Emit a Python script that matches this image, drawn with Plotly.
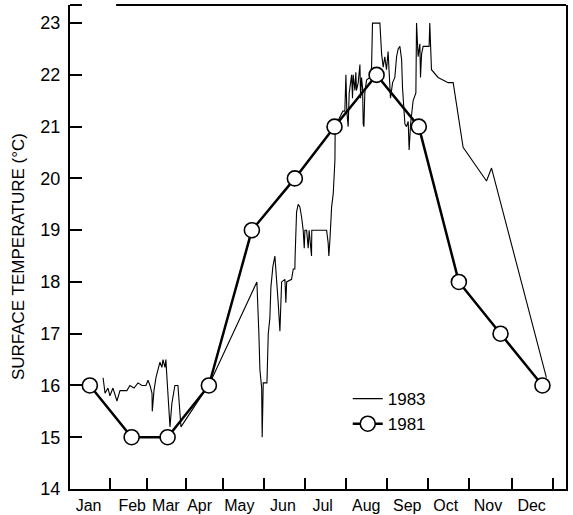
import plotly.graph_objects as go

# ---- data (day of year, temperature °C) ----
days_1981 = [15, 46.6, 73.8, 105, 137.5, 170, 200, 231.8, 263.7, 294, 325.5, 357.2]
temp_1981 = [16.0, 15.0, 15.0, 16.0, 19.0, 20.0, 21.0, 22.0, 21.0, 18.0, 17.0, 16.0]

days_1983 = [25, 26.5, 28.7, 30.2, 32.5, 35.5, 37.8, 40.8, 43, 45.3, 48.4, 51.4, 54.4, 57.4, 59,
             60.5, 62, 62.2, 63.5, 65, 66.5, 68, 69.5, 70.3, 71.8, 72.5, 73.3, 74, 75.6, 77,
             79.3, 81.6, 82.4, 83.9, 105.8, 141.3, 142.8, 143.6, 144.9, 145.3, 146.1, 148.9,
             149.9, 151.1, 151.9, 153.4, 154.9, 156.2, 157.4, 158.7, 159.2, 160, 162.5, 163.2,
             163.8, 167.5, 168.8, 170, 170.2, 171.3, 172.5, 173.8, 175.1, 176.3, 177.1, 177.6,
             178.9, 180.1, 180.8, 182.6, 182.8, 194, 195.2, 195.7, 196.5, 197.8, 199, 199.5,
             200.3, 200.5, 202.5, 206.3, 207.8, 208.6, 209.3, 210.3, 211.1, 212.9, 213.6, 214.1,
             215.4, 216.1, 216.6, 217.9, 219.2, 219.7, 220.4, 221.2, 221.7, 222.2, 222.9, 224.2,
             226.7, 228, 228.7, 234.3, 235.6, 236.8, 238, 239.3, 240.5, 241.3, 242.3, 243.9,
             245.6, 246.9, 248.1, 249.4, 250.7, 251.4, 253.2, 254.4, 255.7, 256.4, 257.5, 259.4,
             261.5, 262, 263.2, 264.5, 265, 265.8, 267, 271.5, 272, 273.3, 275.1, 278.3, 285.9,
             289.7, 297.2, 314.9, 318.7, 360.2]
temp_1983 = [16.15, 15.85, 15.95, 15.8, 15.95, 15.7, 15.9, 15.9, 15.9, 16.0, 15.95, 16.05, 16.0, 16.0, 16.1,
             16.0, 15.85, 15.5, 15.9, 16.15, 16.3, 16.45, 16.35, 16.5, 16.35, 16.5, 16.15, 15.8, 15.2, 15.65,
             16.0, 16.0, 15.65, 15.2, 16.05, 18.0, 17.0, 16.3, 15.95, 15.0, 16.05, 16.05,
             17.0, 17.3, 17.9, 18.3, 18.5, 18.1, 17.6, 17.05, 17.5, 18.0, 18.05, 17.6,
             18.0, 18.05, 18.25, 18.25, 18.5, 19.35, 19.5, 19.45, 19.25, 19.0, 18.65, 19.0,
             19.0, 18.65, 19.0, 18.5, 19.0, 19.0, 18.75, 18.5, 18.8, 19.45, 19.7, 19.95,
             20.35, 21.0, 21.1, 21.3, 21.3, 22.0, 21.3, 21.0, 21.65, 22.0, 21.55, 22.0,
             21.7, 22.05, 21.7, 21.85, 22.2, 21.55, 21.95, 21.75, 21.05, 21.0, 21.65, 21.9,
             21.95, 22.15, 23.0, 23.0, 22.4, 22.15, 22.35, 22.1, 22.45, 21.95, 21.55, 21.85,
             21.95, 22.35, 22.5, 22.55, 22.3, 21.75, 21.05, 21.0, 21.1, 20.55, 21.05, 21.5,
             21.65, 23.0, 22.35, 22.6, 21.95, 22.4, 22.55, 22.55, 23.0, 22.1, 22.05, 21.95, 21.85,
             21.85, 20.6, 19.95, 20.2, 16.15]

months = ["Jan", "Feb", "Mar", "Apr", "May", "Jun", "Jul", "Aug", "Sep", "Oct", "Nov", "Dec"]
month_label_days = [14, 47, 72.5, 98, 128, 161, 191, 224, 255, 284, 316, 349]
month_tick_days = [30, 58, 88, 116, 147, 178, 209, 240, 270.5, 301.5, 334, 365]
y_ticks = list(range(14, 24))
y_title = "SURFACE TEMPERATURE (°C)"

FONT = "Liberation Sans, Arial, sans-serif"

fig = go.Figure()
fig.add_trace(go.Scatter(
    x=days_1983, y=temp_1983, mode="lines", name="1983",
    line=dict(color="black", width=1.1),
))
fig.add_trace(go.Scatter(
    x=days_1981, y=temp_1981, mode="lines+markers", name="1981",
    line=dict(color="black", width=2.5),
    marker=dict(size=15, color="white", line=dict(color="black", width=1.6)),
))

fig.update_layout(
    width=573, height=515,
    margin=dict(l=70, r=7, t=5, b=26),
    paper_bgcolor="white", plot_bgcolor="white",
    font=dict(family=FONT, color="black"),
    showlegend=True,
    legend=dict(x=0.56, y=0.223, xanchor="left", yanchor="top",
                font=dict(size=17, family=FONT), bgcolor="rgba(0,0,0,0)",
                tracegroupgap=0),
    xaxis=dict(
        range=[0, 375], showgrid=False, zeroline=False, automargin=False,
        showline=True, linecolor="black", linewidth=2, mirror=False,
        tickmode="array", tickvals=month_label_days, ticktext=months,
        ticks="inside", ticklen=0, tickfont=dict(size=16), ticklabelstandoff=1,
        minor=dict(tickmode="array", tickvals=month_tick_days, ticks="inside",
                   ticklen=11, tickwidth=2, tickcolor="black", showgrid=False),
    ),
    yaxis=dict(
        range=[14, 23.35], showgrid=False, zeroline=False, automargin=False,
        showline=True, linecolor="black", linewidth=2, mirror=True,
        tickmode="array", tickvals=y_ticks,
        ticks="inside", ticklen=12, tickwidth=2, tickcolor="black",
        tickfont=dict(size=18), ticklabelstandoff=4,
    ),
    annotations=[
        dict(text=y_title, textangle=-90, xref="paper", yref="paper",
             x=-0.105, y=0.481, xanchor="center", yanchor="middle",
             showarrow=False, font=dict(size=17, family=FONT)),
    ],
    shapes=[
        dict(type="line", xref="paper", yref="paper", x0=0, x1=0.024, y0=1, y1=1,
             line=dict(color="black", width=2)),
        dict(type="line", xref="paper", yref="paper", x0=0.093, x1=1, y0=1, y1=1,
             line=dict(color="black", width=2)),
    ],
)

fig.write_html("out.html",
               config={"displayModeBar": False},
               post_script="document.body.style.margin='0';document.body.style.padding='0';")
